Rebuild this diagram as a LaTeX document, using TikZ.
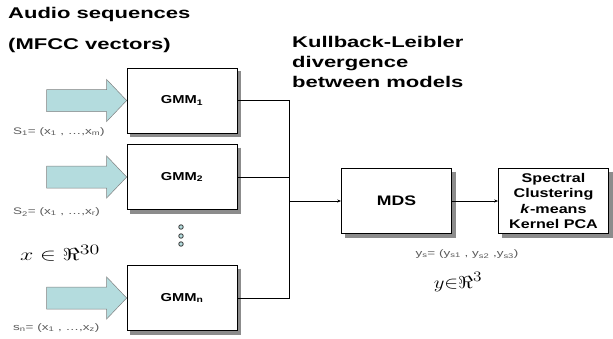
\documentclass[tikz,border=0pt]{standalone}
\usepackage{fontspec}
\setmainfont{Liberation Sans}
\newfontfamily\wide{Liberation Sans}[FakeStretch=1.42]
\newfontfamily\semiwide{Liberation Sans}[FakeStretch=1.28]
\usetikzlibrary{arrows.meta}
\definecolor{arrowblue}{RGB}{180,220,222}
\definecolor{myshadowc}{RGB}{140,140,140}
\definecolor{labelgray}{RGB}{90,90,90}
\begin{document}
\begin{tikzpicture}[x=1pt,y=-1pt,
  box/.style={draw=black,line width=0.7pt,fill=white,minimum width=110pt,minimum height=65pt,inner sep=0pt},
  boxtext/.style={font=\semiwide\bfseries\fontsize{11.5}{14}\selectfont},
  title/.style={font=\wide\bfseries\fontsize{15.5}{20}\selectfont,anchor=west,inner sep=0pt,align=left},
  seq/.style={font=\wide\fontsize{9.5}{11}\selectfont,text=labelgray,anchor=west,inner sep=0pt},
  fat/.style={draw=gray,line width=0.5pt,fill=arrowblue},
  boxshadow/.style={draw=myshadowc,line width=3.4pt,line cap=butt,line join=miter},
  conn/.style={line width=0.8pt},
  tip/.style={-{Stealth[length=4pt,width=3pt]}}]
\useasboundingbox (0,0) rectangle (613,338);
% titles
\node[title] (t1) at (8,14) {Audio sequences};
\node[title] (t2) at (8,45) {(MFCC vectors)};
\node[title] (kl) at (292,62) {Kullback-Leibler\\divergence\\between models};
% GMM boxes
\node[box,boxtext] (g1) at (182,100.5) {GMM\textsubscript{1}};
\node[box,boxtext] (g2) at (182,177) {GMM\textsubscript{2}};
\node[box,boxtext] (gn) at (182,298) {GMM\textsubscript{n}};
% MDS and Spectral
\node[box,font=\semiwide\bfseries\fontsize{13.8}{15}\selectfont] (mds) at (396.5,201) {MDS};
\node[box,align=center,font=\semiwide\bfseries\fontsize{12.6}{15.5}\selectfont] (sc) at (553.5,201) {Spectral\\Clustering\\\textit{k}-means\\Kernel PCA};
% shadows drawn as thick grey strokes along right and bottom edges
\foreach \bx in {g1,g2,gn,mds,sc}{
  \draw[boxshadow] ([shift={(2.3,3.5)}]\bx.north east) -- ([shift={(2.3,2.3)}]\bx.south east) -- ([shift={(3.5,2.3)}]\bx.south west);
}
% block arrows
\foreach \g in {g1,g2,gn}{
  \draw[fat] ([xshift=-80pt,yshift=-11pt]\g.west) -- ([xshift=-20pt,yshift=-11pt]\g.west)
     -- ([xshift=-20pt,yshift=-21pt]\g.west) -- (\g.west) -- ([xshift=-20pt,yshift=21pt]\g.west)
     -- ([xshift=-20pt,yshift=11pt]\g.west) -- ([xshift=-80pt,yshift=11pt]\g.west) -- cycle;
}
% sequence labels
\node[seq] (s1) at (13,132) {S\textsubscript{1}= (x\textsubscript{1} , \dots ,x\textsubscript{m})};
\node[seq] (s2) at (13,212) {S\textsubscript{2}= (x\textsubscript{1} , \dots ,x\textsubscript{r})};
\node[seq] (sn) at (13,328) {s\textsubscript{n}= (x\textsubscript{1} , \dots ,x\textsubscript{z})};
% dots
\foreach \yy [count=\i] in {227,236,244}{
  \node[circle,draw=black!80,fill=arrowblue,line width=0.8pt,minimum size=4.5pt,inner sep=0pt] (d\i) at (181,\yy) {};
}
% math
\node[anchor=west,inner sep=0pt] (xr) at (20,253) {\scalebox{1.38}[1]{\fontsize{19}{21}\selectfont$x\in\Re^{30}$}};
\node[seq,anchor=center] (ys) at (467,254) {y\textsubscript{s}= (y\textsubscript{s1} , y\textsubscript{s2} ,y\textsubscript{s3})};
\node[inner sep=0pt] (yr) at (458,282) {\scalebox{1.2}[1]{\fontsize{19}{21}\selectfont$y{\in}\Re^{3}$}};
% connectors
\coordinate (bus) at (289,0);
\draw[conn] (g1.east) -- (g1.east -| bus) -- (gn.east -| bus) -- (gn.east);
\draw[conn] (g2.east) -- (g2.east -| bus);
\draw[conn,tip] (mds.west -| bus) -- (mds.west);
\draw[conn,tip] (mds.east) -- (sc.west);
\end{tikzpicture}
\end{document}
